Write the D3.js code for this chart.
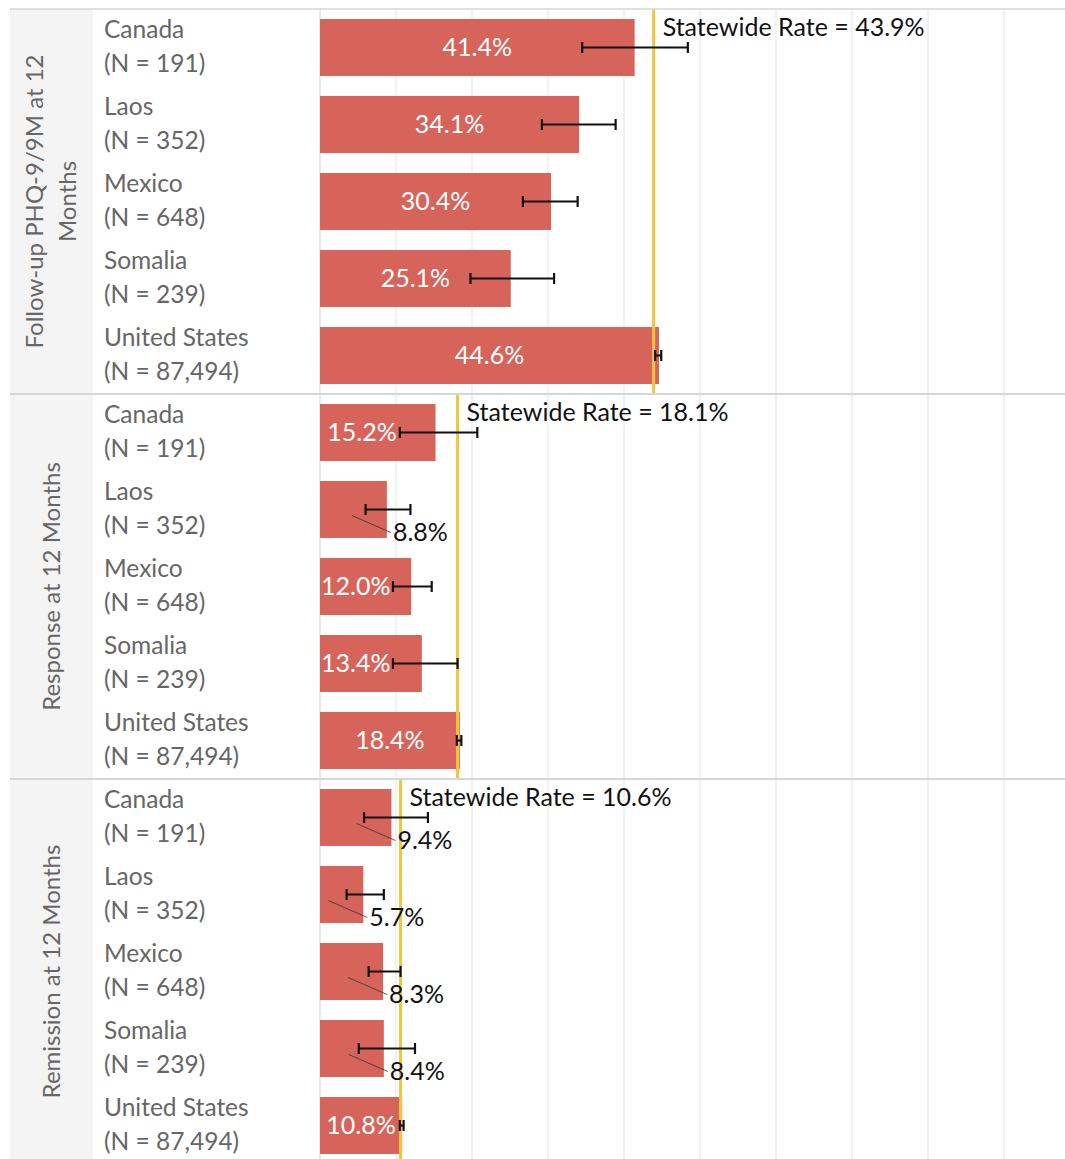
<!DOCTYPE html>
<html>
<head>
<meta charset="utf-8">
<script src="https://cdn.jsdelivr.net/npm/d3@7"></script>
<style>
  html, body { margin: 0; padding: 0; background: #fff; }
  svg { display: block; font-family: "Source Sans Pro", Lato, "Noto Sans", sans-serif; }
</style>
</head>
<body>
<svg id="chart" width="1065" height="1159"></svg>
<script>
// Measures, groups and sample sizes
const measures = ["Follow-up PHQ-9/9M at 12 Months", "Response at 12 Months", "Remission at 12 Months"];
const measureLines = [["Follow-up PHQ-9/9M at 12", "Months"], ["Response at 12 Months"], ["Remission at 12 Months"]];
const countries = ["Canada", "Laos", "Mexico", "Somalia", "United States"];
const sampleSizes = ["191", "352", "648", "239", "87,494"];

// Rates (%) with confidence interval bounds
const followUpRate = [41.4, 34.1, 30.4, 25.1, 44.6];
const followUpLow  = [34.5, 29.2, 26.7, 19.8, 44.1];
const followUpHigh = [48.4, 38.9, 33.9, 30.8, 44.9];

const responseRate = [15.2, 8.8, 12.0, 13.4, 18.4];
const responseLow  = [10.5, 6.0, 9.6, 9.6, 18.0];
const responseHigh = [20.7, 11.9, 14.7, 18.1, 18.6];

const remissionRate = [9.4, 5.7, 8.3, 8.4, 10.8];
const remissionLow  = [5.8, 3.5, 6.4, 5.1, 10.5];
const remissionHigh = [14.2, 8.4, 10.6, 12.5, 11.0];

const statewideRate = [43.9, 18.1, 10.6];
const gridTicks = [0, 10, 20, 30, 40, 50, 60, 70, 80, 90, 100];

const rates = [followUpRate, responseRate, remissionRate];
const lows = [followUpLow, responseLow, remissionLow];
const highs = [followUpHigh, responseHigh, remissionHigh];

const W = 1065;
const stripX0 = 10, stripX1 = 93, plotX0 = 320;
const top0 = 9, panelH = 385;
const barColor = "#d6645a";
const refColor = "#f0c63c";

const svg = d3.select("#chart");
const x = d3.scaleLinear().domain([0, 100]).range([plotX0, plotX0 + 760]);
const fmt = v => v.toFixed(1) + "%";

const panelY = d3.scaleBand().domain(measures).range([top0, top0 + panelH * measures.length]);

// header strip background
svg.append("rect").attr("x", stripX0).attr("y", top0).attr("width", stripX1 - stripX0)
  .attr("height", 1159 - top0).attr("fill", "#f4f4f4");

measures.forEach((m, pi) => {
  const py = panelY(m);
  const g = svg.append("g");
  const y = d3.scaleBand().domain(countries).range([py, py + panelH])
    .paddingInner(0.26).paddingOuter(0.13);

  // vertical gridlines
  g.selectAll("line.grid").data(gridTicks).join("line")
    .attr("x1", d => x(d)).attr("x2", d => x(d))
    .attr("y1", py).attr("y2", py + panelH)
    .attr("stroke", d => d === 0 ? "#d4d4d4" : "#ececec")
    .attr("stroke-width", d => d === 0 ? 1 : 1.5);

  // measure title in the strip
  const lines = measureLines[pi];
  const cy = py + panelH / 2;
  const lineGap = 33;
  lines.forEach((t, li) => {
    const lx = (stripX0 + stripX1) / 2 + (li - (lines.length - 1) / 2) * lineGap;
    g.append("text")
      .attr("transform", `translate(${lx},${cy}) rotate(-90)`)
      .attr("text-anchor", "middle").attr("dy", "0.35em")
      .attr("font-size", 24).attr("fill", "#666").text(t);
  });

  const vals = rates[pi], lo = lows[pi], hi = highs[pi];

  countries.forEach((c, i) => {
    const by = y(c), bh = y.bandwidth(), bc = by + bh / 2;

    // row labels
    g.append("text").attr("x", 104).attr("y", bc - 18).attr("dy", "0.35em")
      .attr("font-size", 24.5).attr("fill", "#666").text(c);
    g.append("text").attr("x", 104).attr("y", bc + 16).attr("dy", "0.35em")
      .attr("font-size", 24.5).attr("fill", "#666").text(`(N = ${sampleSizes[i]})`);

    // bar
    g.append("rect").attr("x", x(0)).attr("y", by)
      .attr("width", x(vals[i]) - x(0)).attr("height", bh).attr("fill", barColor);
  });

  // statewide reference line
  g.append("line").attr("x1", x(statewideRate[pi])).attr("x2", x(statewideRate[pi]))
    .attr("y1", py).attr("y2", py + panelH)
    .attr("stroke", refColor).attr("stroke-width", 3);

  countries.forEach((c, i) => {
    const by = y(c), bh = y.bandwidth(), bc = by + bh / 2;
    // error bar
    const eg = g.append("g").attr("stroke", "#111").attr("stroke-width", 2.2);
    eg.append("line").attr("x1", x(lo[i])).attr("x2", x(hi[i])).attr("y1", bc).attr("y2", bc);
    [lo[i], hi[i]].forEach(v => eg.append("line").attr("x1", x(v)).attr("x2", x(v))
      .attr("y1", bc - 5.5).attr("y2", bc + 5.5));

    // value label: inside the bar, left of the interval, when it fits
    const t = g.append("text").attr("font-size", 25).attr("dy", "0.35em").text(fmt(vals[i]));
    const tw = t.node().getComputedTextLength();
    const room = Math.min(x(vals[i]), x(lo[i])) - x(0);
    if (room >= tw + 2) {
      let cx = Math.min((x(0) + x(vals[i])) / 2, x(lo[i]) - 3 - tw / 2);
      cx = Math.max(cx, x(0) + 1 + tw / 2);
      t.attr("x", cx).attr("y", bc).attr("text-anchor", "middle").attr("fill", "#fff");
    } else {
      const tx = x(vals[i]) + 6, ty = bc + 23;
      t.attr("x", tx).attr("y", ty).attr("fill", "#111");
      g.append("line").attr("x1", x(vals[i]) - 35).attr("y1", bc + 6)
        .attr("x2", tx - 2).attr("y2", ty)
        .attr("stroke", "#333").attr("stroke-width", 0.8);
    }
  });

  // statewide label
  g.append("text").attr("x", x(statewideRate[pi]) + 9).attr("y", py + 18).attr("dy", "0.35em")
    .attr("font-size", 25).attr("fill", "#111")
    .text(`Statewide Rate = ${fmt(statewideRate[pi])}`);

  // panel separator
  g.append("line").attr("x1", stripX0).attr("x2", W).attr("y1", py).attr("y2", py)
    .attr("stroke", "#d6d6d6").attr("stroke-width", pi === 0 ? 1.5 : 2);
});
</script>
</body>
</html>
